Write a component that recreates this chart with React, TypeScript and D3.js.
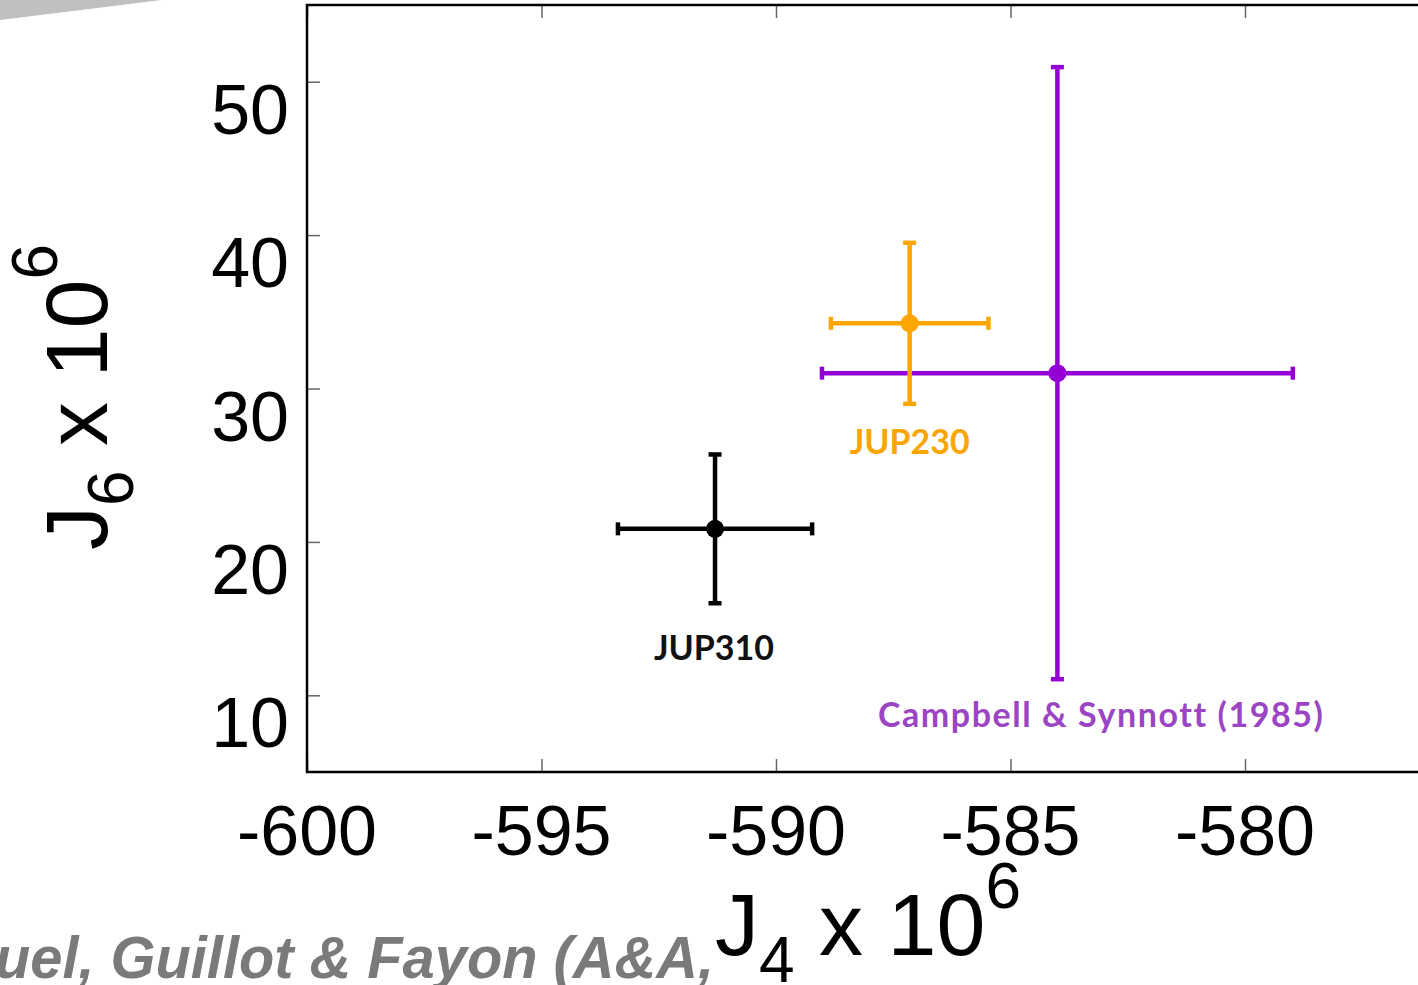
import { useEffect, useRef } from 'react';
import * as d3 from 'd3';

// J4 / J6 measurements (x 1e6)
const names = ['JUP310', 'JUP230', 'Campbell & Synnott (1985)'];
const j4 = [-591.3, -587.15, -584.0];
const j4Err = [2.07, 1.68, 5.02];
const j6 = [20.85, 34.25, 31.0];
const j6Err = [4.85, 5.25, 19.95];
const xTicks = [-600, -595, -590, -585, -580, -575];
const yTicks = [10, 20, 30, 40, 50];

const barColors = ['#000000', '#ffa500', '#9400d3'];
const labelColors = ['#111111', '#f9a602', '#9b45c4'];

const W = 1418;
const H = 985;

export default function App() {
  const ref = useRef<SVGSVGElement>(null);

  useEffect(() => {
    const svg = d3.select(ref.current);
    svg.selectAll('*').remove();

    const left = 307;
    const top = 5;
    const bottom = 772;
    const right = left + 24 * 46.9;

    const x = d3.scaleLinear().domain([-600, -576]).range([left, right]);
    const y = d3.scaleLinear().domain([5, 55]).range([bottom, top]);

    // grey slide decoration top-left
    svg
      .append('polygon')
      .attr('points', '0,0 162,0 0,20')
      .attr('fill', '#c0c0c0');

    // ticks (inner, all four sides)
    const tickLen = 13;
    const tickG = svg.append('g');
    const axB = tickG
      .append('g')
      .attr('transform', `translate(0,${bottom})`)
      .call(d3.axisBottom(x).tickValues(xTicks).tickSize(-tickLen).tickFormat(() => ''));
    const axT = tickG
      .append('g')
      .attr('transform', `translate(0,${top})`)
      .call(d3.axisTop(x).tickValues(xTicks).tickSize(-tickLen).tickFormat(() => ''));
    const axL = tickG
      .append('g')
      .attr('transform', `translate(${left},0)`)
      .call(d3.axisLeft(y).tickValues(yTicks).tickSize(-tickLen).tickFormat(() => ''));
    const axR = tickG
      .append('g')
      .attr('transform', `translate(${right},0)`)
      .call(d3.axisRight(y).tickValues(yTicks).tickSize(-tickLen).tickFormat(() => ''));
    [axB, axT, axL, axR].forEach(a => {
      a.select('.domain').remove();
      a.selectAll('.tick line').attr('stroke', '#666').attr('stroke-width', 1.5);
    });

    // frame
    svg
      .append('rect')
      .attr('x', left)
      .attr('y', top)
      .attr('width', right - left)
      .attr('height', bottom - top)
      .attr('fill', 'none')
      .attr('stroke', '#000')
      .attr('stroke-width', 2.5);

    // tick labels
    svg
      .append('g')
      .selectAll('text')
      .data(xTicks.slice(0, 5))
      .enter()
      .append('text')
      .attr('x', d => x(d))
      .attr('y', 855)
      .attr('text-anchor', 'middle')
      .style('font-family', '"Liberation Sans", Arial, sans-serif')
      .style('font-size', '70px')
      .attr('fill', '#000')
      .text(d => d);

    svg
      .append('g')
      .selectAll('text')
      .data(yTicks)
      .enter()
      .append('text')
      .attr('x', 289)
      .attr('y', d => y(d) + 52)
      .attr('text-anchor', 'end')
      .style('font-family', '"Liberation Sans", Arial, sans-serif')
      .style('font-size', '70px')
      .attr('fill', '#000')
      .text(d => d);

    // error bars, drawn black, purple, orange
    const order = [0, 2, 1];
    const cap = 6.5;
    const bars = svg.append('g');
    order.forEach(i => {
      const g = bars.append('g').attr('stroke', barColors[i]).attr('fill', barColors[i]);
      const cx = x(j4[i]);
      const cy = y(j6[i]);
      const x0 = x(j4[i] - j4Err[i]);
      const x1 = x(j4[i] + j4Err[i]);
      const y0 = y(j6[i] - j6Err[i]);
      const y1 = y(j6[i] + j6Err[i]);
      const lines = [
        [x0, cy, x1, cy],
        [cx, y0, cx, y1],
        [x0, cy - cap, x0, cy + cap],
        [x1, cy - cap, x1, cy + cap],
        [cx - cap, y0, cx + cap, y0],
        [cx - cap, y1, cx + cap, y1],
      ];
      g.selectAll('line')
        .data(lines)
        .enter()
        .append('line')
        .attr('x1', d => d[0])
        .attr('y1', d => d[1])
        .attr('x2', d => d[2])
        .attr('y2', d => d[3])
        .attr('stroke-width', 4.5);
      g.append('circle').attr('cx', cx).attr('cy', cy).attr('r', 9).attr('stroke', 'none');
    });

    // point labels
    const labelDx = [-1, 0, 43];
    const labelDy = [57, 50, 48];
    const labelLen = [120, 120, 445];
    names.forEach((n, i) => {
      svg
        .append('text')
        .attr('x', x(j4[i]) + labelDx[i])
        .attr('y', y(j6[i] - j6Err[i]) + labelDy[i])
        .attr('text-anchor', 'middle')
        .attr('textLength', labelLen[i])
        .attr('lengthAdjust', 'spacing')
        .style('font-family', 'Lato, "Open Sans", sans-serif')
        .style('font-weight', 700)
        .style('font-size', '34px')
        .style('font-variant-ligatures', 'none')
        .attr('fill', labelColors[i])
        .text(n);
    });

    // citation, cut at the left edge
    svg
      .append('text')
      .attr('x', -5)
      .attr('y', 978)
      .attr('textLength', 719)
      .attr('lengthAdjust', 'spacingAndGlyphs')
      .style('font-family', '"Liberation Sans", Arial, sans-serif')
      .style('font-weight', 700)
      .style('font-style', 'italic')
      .style('font-size', '60px')
      .attr('fill', '#7a7a7a')
      .text('uel, Guillot & Fayon (A&A,');

    // axis titles
    const xt = svg
      .append('text')
      .attr('x', 868)
      .attr('y', 955)
      .attr('text-anchor', 'middle')
      .style('font-family', '"Liberation Sans", Arial, sans-serif')
      .style('font-size', '88px')
      .attr('fill', '#000');
    xt.append('tspan').text('J');
    xt.append('tspan').attr('dy', 27).style('font-size', '64px').text('4');
    xt.append('tspan').attr('dy', -27).text(' x 10');
    xt.append('tspan').attr('dy', -47).style('font-size', '64px').text('6');

    const yt = svg
      .append('text')
      .attr('transform', 'translate(107,397) rotate(-90)')
      .attr('text-anchor', 'middle')
      .style('font-family', '"Liberation Sans", Arial, sans-serif')
      .style('font-size', '88px')
      .attr('fill', '#000');
    yt.append('tspan').text('J');
    yt.append('tspan').attr('dy', 26).style('font-size', '64px').text('6');
    yt.append('tspan').attr('dy', -26).text(' x 10');
    yt.append('tspan').attr('dy', -50).style('font-size', '64px').text('6');
  }, []);

  return (
    <svg
      ref={ref}
      width={W}
      height={H}
      style={{ position: 'absolute', left: 0, top: 0, background: '#fff', overflow: 'hidden' }}
    />
  );
}
